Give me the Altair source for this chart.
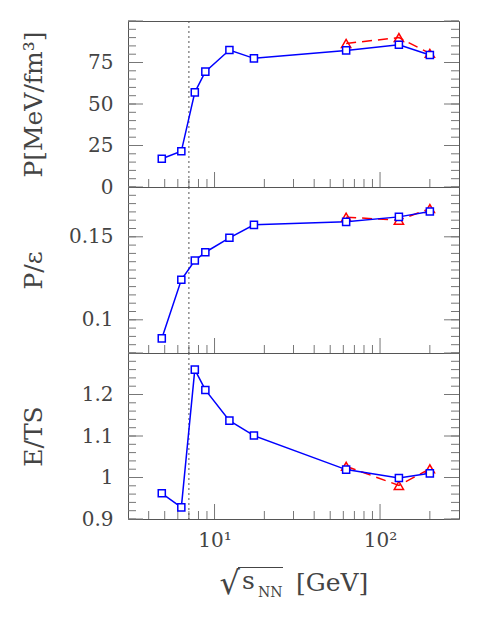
import altair as alt
import pandas as pd

# ---- data ----
energy = [4.8, 6.3, 7.6, 8.8, 12.3, 17.3, 62.4, 130, 200]
energy_red = [62.4, 130, 200]

p_blue = [17.0, 21.5, 57.0, 69.5, 82.5, 77.5, 82.3, 85.7, 79.5]
p_red = [86.5, 90.0, 80.5]

pe_blue = [0.0888, 0.1241, 0.1357, 0.1407, 0.1494, 0.1572, 0.1590, 0.1620, 0.1652]
pe_red = [0.1618, 0.1600, 0.1670]

ets_blue = [0.962, 0.928, 1.260, 1.211, 1.137, 1.101, 1.019, 0.999, 1.010]
ets_red = [1.027, 0.981, 1.021]

vline_x = [7.0]

x_major = [10, 100]
x_minor = [4, 5, 6, 7, 8, 9, 20, 30, 40, 50, 60, 70, 80, 90, 200]

p_labels = [0, 25, 50, 75]
p_major = [0, 25, 50, 75, 100]
p_minor = [v * 5 for v in range(0, 21)]

pe_labels = [0.1, 0.15]
pe_major = [0.1, 0.15]
pe_minor = [round(0.08 + 0.005 * i, 3) for i in range(0, 21)]

ets_labels = [0.9, 1.0, 1.1, 1.2]
ets_major = [0.9, 1.0, 1.1, 1.2, 1.3]
ets_minor = [round(0.9 + 0.02 * i, 2) for i in range(0, 21)]

# ---- styling ----
W, H = 331, 166
FONT = "DejaVu Serif"
BLUE = "#0000ff"
RED = "#ff0000"
TICK = "#777777"
TXT = "#444444"
MAJ, MIN = 15, 8

XS = alt.Scale(type="log", domain=[3, 300], nice=False)


def panel(blue, red, domain, labels, major, minor, title, bottom=False):
    ys = alt.Scale(domain=domain, nice=False, zero=False)
    blue_df = pd.DataFrame({"x": energy, "y": blue})
    red_df = pd.DataFrame({"x": energy_red, "y": red})

    yaxis = alt.Axis(
        values=labels, labelExpr="'' + datum.value", title=title, titleX=-87, titleY=H / 2,
        titleAngle=-90, titleAlign="center", titleBaseline="alphabetic",
        titleFont=FONT, titleFontSize=25, titleFontWeight="normal", titleColor=TXT,
        ticks=False, domain=False, grid=False, labelPadding=15,
        labelFont=FONT, labelFontSize=20, labelColor=TXT,
        labelOverlap=False, labelFlush=False,
    )
    if bottom:
        xaxis = alt.Axis(
            values=x_major, labelExpr="datum.value == 10 ? '10¹' : '10²'",
            title=None, ticks=False, domain=False, grid=False, labelPadding=11,
            labelFont=FONT, labelFontSize=20, labelColor=TXT,
            labelOverlap=False, labelFlush=False,
        )
    else:
        xaxis = None

    def X(field):
        return alt.X(field, scale=XS, axis=xaxis)

    def Y(field):
        return alt.Y(field, scale=ys, axis=yaxis)

    layers = []

    def yticks(vals, length, right):
        df = pd.DataFrame({"v": vals})
        if right:
            xe = dict(x=alt.value(W - length), x2=alt.value(W))
        else:
            xe = dict(x=alt.value(0), x2=alt.value(length))
        return alt.Chart(df).mark_rule(color=TICK, strokeWidth=1).encode(y=Y("v:Q"), **xe)

    def xticks(vals, length):
        df = pd.DataFrame({"v": vals})
        return alt.Chart(df).mark_rule(color=TICK, strokeWidth=1).encode(
            x=X("v:Q"), y=alt.value(H), y2=alt.value(H - length))

    layers += [yticks(minor, MIN, False), yticks(major, MAJ, False),
               yticks(minor, MIN, True), yticks(major, MAJ, True),
               xticks(x_minor, MIN), xticks(x_major, MAJ)]

    vline = alt.Chart(pd.DataFrame({"v": vline_x})).mark_rule(
        color="#555555", strokeWidth=1, strokeDash=[2, 3]).encode(x=X("v:Q"))
    layers.append(vline)

    red_line = alt.Chart(red_df).mark_line(color=RED, strokeWidth=1.5, strokeDash=[10, 6]).encode(
        x=X("x:Q"), y=Y("y:Q"))
    red_pts = alt.Chart(red_df).mark_point(shape="triangle-up", size=85, filled=False,
                                           color=RED, strokeWidth=1.5, opacity=1).encode(
        x=X("x:Q"), y=Y("y:Q"))
    blue_line = alt.Chart(blue_df).mark_line(color=BLUE, strokeWidth=1.5).encode(
        x=X("x:Q"), y=Y("y:Q"))
    blue_pts = alt.Chart(blue_df).mark_square(size=50, fill="white", stroke=BLUE,
                                              strokeWidth=1.5, opacity=1).encode(
        x=X("x:Q"), y=Y("y:Q"))
    layers += [red_line, red_pts, blue_line, blue_pts]

    if bottom:
        def txt(s, x, y, size, align):
            return alt.Chart(pd.DataFrame({"t": [s]})).mark_text(
                font=FONT, fontSize=size, align=align, baseline="alphabetic", color=TXT).encode(
                x=alt.value(x), y=alt.value(y), text="t:N")
        layers += [txt("√", 112, 241, 32, "right"),
                   txt("s", 114, 236, 25, "left"),
                   txt("NN", 130, 244, 14, "left"),
                   txt("[GeV]", 168, 238, 25, "left")]
        bar = alt.Chart(pd.DataFrame({"t": [0]})).mark_rule(color=TXT, strokeWidth=1.2).encode(
            x=alt.value(110), x2=alt.value(155), y=alt.value(214.5))
        layers.append(bar)

    return alt.layer(*layers).properties(width=W, height=H)


p1 = panel(p_blue, p_red, [0, 100], p_labels, p_major, p_minor, "P[MeV/fm³]")
p2 = panel(pe_blue, pe_red, [0.08, 0.18], pe_labels, pe_major, pe_minor, "P/ε")
p3 = panel(ets_blue, ets_red, [0.9, 1.3], ets_labels, ets_major, ets_minor, "E/TS", bottom=True)

chart = alt.vconcat(p1, p2, p3, spacing=0, bounds="flush").properties(
    padding={"left": 12, "top": 12, "right": 5, "bottom": 5}
).configure_view(stroke="#555555", strokeWidth=1)

chart.save("out.html", embed_options={"renderer": "svg", "actions": False})
